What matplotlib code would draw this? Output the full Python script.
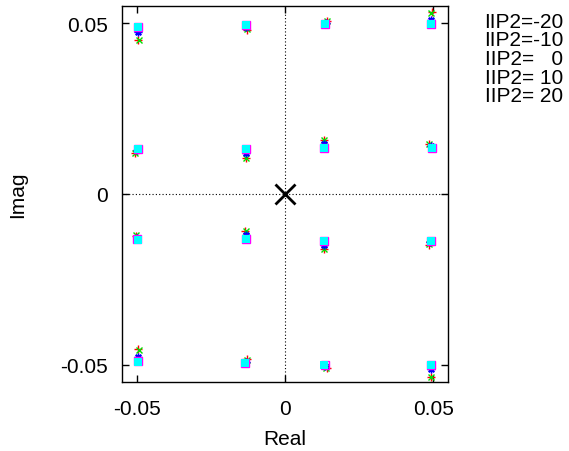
import matplotlib
matplotlib.use("Agg")
import matplotlib.pyplot as plt

plt.rcParams["font.family"] = ["Liberation Sans", "DejaVu Sans"]

labels = ["IIP2=-20", "IIP2=-10", "IIP2=   0", "IIP2= 10", "IIP2= 20"]

# 16 constellation points per series
re_m20 = [-0.0495, -0.0129, -0.0505, -0.0133, 0.0141, 0.0495, 0.0133, 0.0487,
          -0.0504, -0.0134, -0.0495, -0.0129, 0.0133, 0.0487, 0.0141, 0.0493]
im_m20 = [0.0451, 0.0481, 0.0121, 0.0105, 0.0507, 0.0532, 0.0159, 0.0147,
          -0.0122, -0.0107, -0.0454, -0.0484, -0.0162, -0.0148, -0.0509, -0.0536]
re_m10 = [-0.0494, -0.0128, -0.0505, -0.0133, 0.0141, 0.0494, 0.0133, 0.0486,
          -0.0504, -0.0133, -0.0494, -0.0128, 0.0132, 0.0486, 0.0140, 0.0494]
im_m10 = [0.0452, 0.0482, 0.0120, 0.0106, 0.0507, 0.0531, 0.0158, 0.0146,
          -0.0121, -0.0108, -0.0455, -0.0485, -0.0161, -0.0147, -0.0508, -0.0535]
re_0 = [-0.0496, -0.0131, -0.0499, -0.0133, 0.0138, 0.0494, 0.0133, 0.0492,
        -0.0500, -0.0133, -0.0495, -0.0132, 0.0132, 0.0491, 0.0136, 0.0492]
im_0 = [0.0474, 0.0489, 0.0128, 0.0119, 0.0501, 0.0510, 0.0147, 0.0139,
        -0.0129, -0.0120, -0.0478, -0.0491, -0.0150, -0.0141, -0.0503, -0.0513]
re_10 = [-0.0497, -0.0132, -0.0497, -0.0133, 0.0136, 0.0494, 0.0133, 0.0495,
         -0.0498, -0.0133, -0.0495, -0.0135, 0.0132, 0.0494, 0.0134, 0.0492]
im_10 = [0.0488, 0.0493, 0.0131, 0.0131, 0.0497, 0.0498, 0.0135, 0.0135,
         -0.0133, -0.0131, -0.0490, -0.0495, -0.0138, -0.0138, -0.0500, -0.0500]
re_20 = [-0.0496, -0.0132, -0.0496, -0.0133, 0.0136, 0.0494, 0.0133, 0.0495,
         -0.0497, -0.0133, -0.0495, -0.0135, 0.0132, 0.0494, 0.0133, 0.0492]
im_20 = [0.0489, 0.0494, 0.0132, 0.0132, 0.0496, 0.0497, 0.0134, 0.0134,
         -0.0134, -0.0132, -0.0491, -0.0495, -0.0137, -0.0137, -0.0499, -0.0499]

fig = plt.figure(figsize=(5.69, 4.52), dpi=100)
ax = fig.add_axes([0.2144, 0.1527, 0.5729, 0.8318])

# zero axes
ax.axhline(0, color="black", lw=0.8, ls=(0, (1, 2)), zorder=1)
ax.axvline(0, color="black", lw=0.8, ls=(0, (1, 2)), zorder=1)

ax.plot(re_m20, im_m20, ls="none", marker="+", ms=5.5, mew=1.0, color="red")
ax.plot(re_m10, im_m10, ls="none", marker="x", ms=5, mew=1.0, color="#00e000")
ax.plot(re_0, im_0, ls="none", marker=(8, 2, 0), ms=5.5, mew=1.0, color="blue")
ax.plot(re_10, im_10, ls="none", marker="s", ms=6, mew=1.0, mfc="none", color="magenta")
ax.plot(re_20, im_20, ls="none", marker="s", ms=5.2, mew=0, color="cyan")

# origin marker
ax.plot([0], [0], ls="none", marker="x", ms=15, mew=2, color="black")

ax.set_xlim(-0.055, 0.055)
ax.set_ylim(-0.055, 0.055)
ax.set_xticks([-0.05, 0, 0.05])
ax.set_xticklabels(["-0.05", "0", "0.05"])
ax.set_yticks([-0.05, 0, 0.05])
ax.set_yticklabels(["-0.05", "0", "0.05"])
ax.tick_params(direction="in", length=5, width=1, top=True, right=True,
               labelsize=15)
ax.tick_params(axis="x", pad=12.5)
ax.tick_params(axis="y", pad=10)
for sp in ax.spines.values():
    sp.set_linewidth(1.0)

ax.set_xlabel("Real", fontsize=15, labelpad=8)
ax.set_ylabel("Imag", fontsize=15, labelpad=24)

# key text on the right, right-aligned like gnuplot
for i, lab in enumerate(labels):
    fig.text(563 / 569, 1 - (22 + i * 18.7) / 452, lab, ha="right", va="center",
             fontsize=15)

fig.savefig("out.png", dpi=100)
